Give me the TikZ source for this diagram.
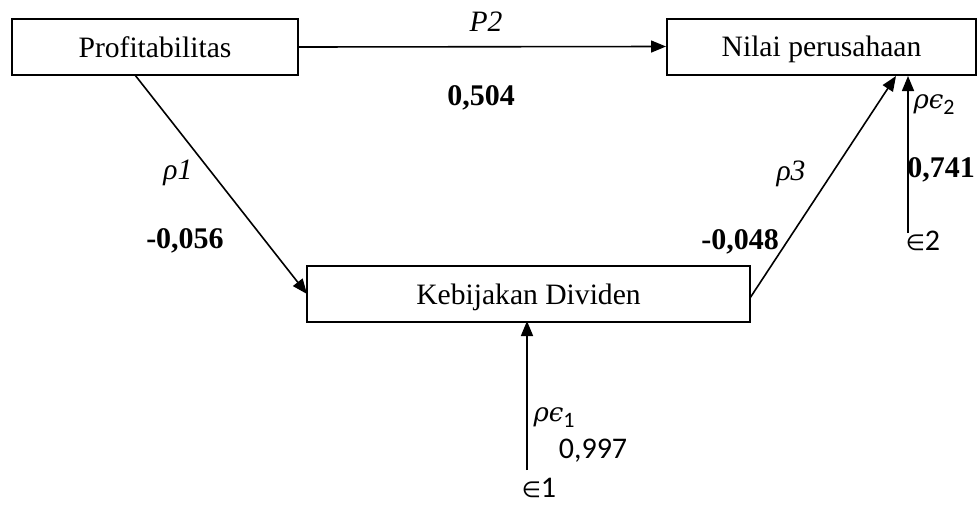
\documentclass[tikz,border=0pt]{standalone}
\usepackage{fontspec}
\setmainfont{Liberation Serif}
\newfontfamily\calib{Carlito}
\newfontfamily\symserif{DejaVu Serif}
\newfontfamily\symsans{DejaVu Sans}
\usetikzlibrary{arrows.meta}
\newcommand{\elem}{{\symsans\fontsize{11}{12}\selectfont ∈}}
\newcommand{\rhoeps}[1]{{\symserif\itshape ρϵ}\raisebox{-3pt}{\calib\fontsize{11}{12}\selectfont #1}}
\begin{document}
\begin{tikzpicture}[x=0.5pt,y=-0.5pt,
  box/.style={draw,line width=1pt,minimum height=28pt,inner sep=0pt,text height=10pt,text depth=0pt,font=\fontsize{14.8}{17}\selectfont},
  link/.style={line width=0.8pt,-{Triangle[length=7.5pt,width=6pt]}},
  lbl/.style={font=\fontsize{14.8}{17}\selectfont\itshape,inner sep=0pt},
  val/.style={font=\fontsize{15}{17}\selectfont\bfseries,inner sep=0pt},
  gre/.style={font=\fontsize{13}{15}\selectfont,inner sep=0pt},
  cal/.style={font=\fontsize{15}{17}\selectfont\calib,inner sep=0pt}]
\useasboundingbox (0,0) rectangle (979,504);
% variables
\node[box,minimum width=143pt] (prof) at (155,47) {Profitabilitas};
\node[box,minimum width=154.5pt] (nilai) at (821.5,46.5) {Nilai perusahaan};
\node[box,minimum width=221.5pt] (div) at (528.5,294) {Kebijakan Dividen};
% anchor points on the boxes
\coordinate (p1s) at (135,75);
\coordinate (d1e) at (307,294);
\coordinate (d3s) at (750,298);
\coordinate (n3e) at (896,76);
\coordinate (e2) at (908,233);
\coordinate (n2e) at (908,76);
\coordinate (e1) at (527,470);
\coordinate (d2e) at (527,321);
% paths
\draw[link] (prof.east) -- (nilai.west);
\draw[link] (p1s) -- (d1e);
\draw[link] (d3s) -- (n3e);
\draw[link] (e2) -- (n2e);
\draw[link] (e1) -- (d2e);
% coefficients
\node[lbl] (lp2) at (486,22) {P2};
\node[val] (v504) at (481,98) {0,504};
\node[lbl] (lp1) at (178,173) {ρ1};
\node[val] (v056) at (185,241) {-0,056};
\node[lbl] (lp3) at (791,174) {ρ3};
\node[val] (v048) at (740,242) {-0,048};
\node[gre] (le2) at (934,105) {\rhoeps{2}};
\node[val] (v741) at (941,170) {0,741};
\node[cal] (ee2) at (923,241) {\elem2};
\node[gre] (le1) at (554,418) {\rhoeps{1}};
\node[cal] (v997) at (593,451) {0,997};
\node[cal] (ee1) at (539,488) {\elem1};
\end{tikzpicture}
\end{document}
